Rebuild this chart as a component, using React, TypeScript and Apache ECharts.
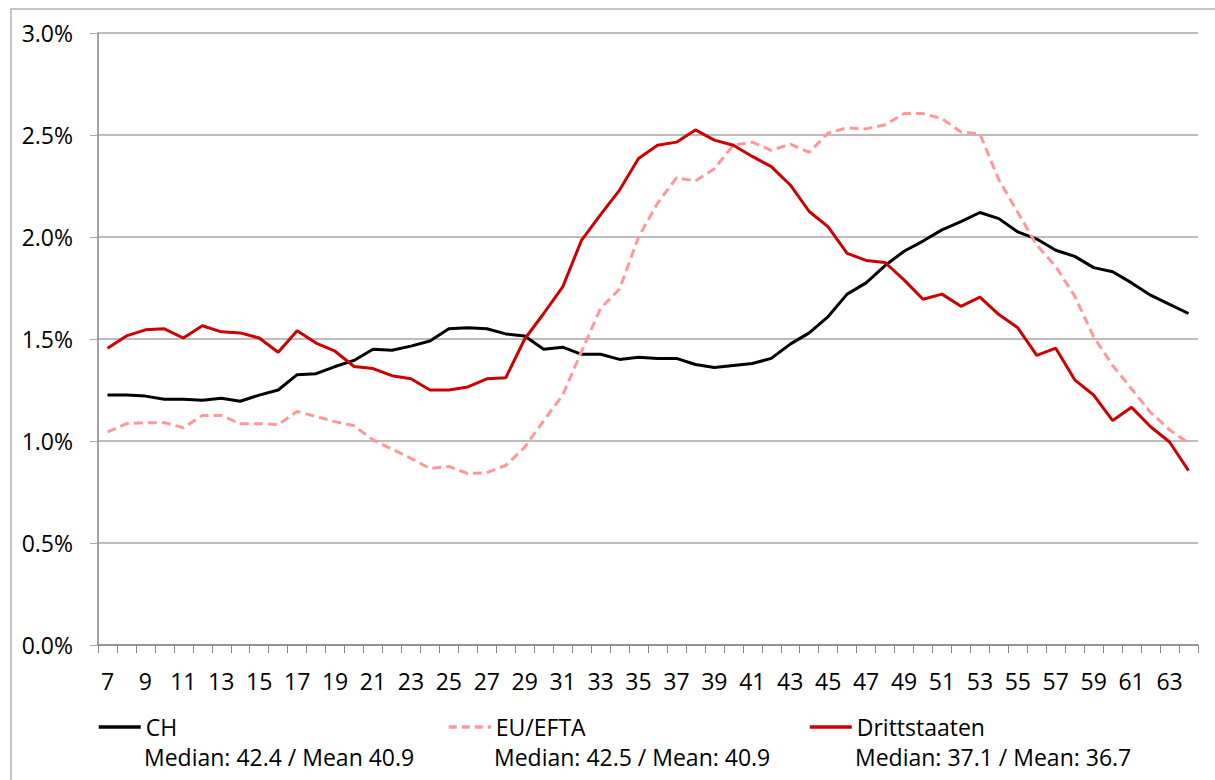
import React, { useEffect, useRef } from "react";
import * as echarts from "echarts";

const ages: string[] = [];
for (let a = 7; a <= 64; a++) ages.push(String(a));

const chValues = [
  1.225, 1.225, 1.22, 1.205, 1.205, 1.2, 1.21, 1.195, 1.225, 1.25,
  1.325, 1.33, 1.365, 1.395, 1.45, 1.445, 1.465, 1.49, 1.55, 1.555,
  1.55, 1.525, 1.515, 1.45, 1.46, 1.425, 1.425, 1.4, 1.41, 1.405,
  1.405, 1.375, 1.36, 1.37, 1.38, 1.405, 1.475, 1.53, 1.61, 1.72,
  1.775, 1.86, 1.93, 1.98, 2.035, 2.075, 2.12, 2.09, 2.025, 1.99,
  1.935, 1.905, 1.85, 1.83, 1.775, 1.715, 1.67, 1.625,
];

const euValues = [
  1.045, 1.085, 1.09, 1.09, 1.065, 1.125, 1.125, 1.085, 1.085, 1.08,
  1.145, 1.12, 1.095, 1.075, 1.005, 0.96, 0.915, 0.865, 0.875, 0.84,
  0.845, 0.88, 0.97, 1.1, 1.225, 1.44, 1.65, 1.745, 2.0, 2.165,
  2.29, 2.275, 2.335, 2.45, 2.465, 2.425, 2.455, 2.415, 2.51, 2.535,
  2.53, 2.55, 2.605, 2.605, 2.58, 2.515, 2.505, 2.28, 2.12, 1.96,
  1.855, 1.71, 1.51, 1.37, 1.255, 1.14, 1.055, 0.99,
];

const drittValues = [
  1.455, 1.515, 1.545, 1.55, 1.505, 1.565, 1.535, 1.53, 1.505, 1.435,
  1.54, 1.48, 1.44, 1.365, 1.355, 1.32, 1.305, 1.25, 1.25, 1.265,
  1.305, 1.31, 1.5, 1.625, 1.755, 1.985, 2.11, 2.23, 2.385, 2.45,
  2.465, 2.525, 2.475, 2.45, 2.395, 2.345, 2.255, 2.125, 2.05, 1.92,
  1.885, 1.875, 1.79, 1.695, 1.72, 1.66, 1.705, 1.62, 1.555, 1.42,
  1.455, 1.3, 1.225, 1.1, 1.165, 1.07, 0.995, 0.855,
];

const seriesNames = ["CH", "EU/EFTA", "Drittstaaten"];
const seriesColors = ["#000000", "#ff9999", "#cc0000"];
const statLabels = [
  "Median: 42.4 / Mean 40.9",
  "Median: 42.5 / Mean: 40.9",
  "Median: 37.1 / Mean: 36.7",
];

const FONT = "Open Sans";
const FS = 23;

export default function App() {
  const ref = useRef<HTMLDivElement>(null);
  useEffect(() => {
    document.body.style.margin = "0";
    const chart = echarts.init(ref.current!, null, { renderer: "svg" });
    const legendLefts = [97, 447, 808];
    const statLefts = [144, 494, 855];
    chart.setOption({
      animation: false,
      backgroundColor: "#ffffff",
      textStyle: { fontFamily: FONT },
      grid: { left: 98, right: 17, top: 33, bottom: 135, containLabel: false },
      xAxis: {
        type: "category",
        data: ages,
        boundaryGap: true,
        axisLine: { lineStyle: { color: "#868686", width: 1.5 } },
        axisTick: { show: true, interval: 0, length: 8, lineStyle: { color: "#868686" } },
        axisLabel: { interval: 1, margin: 24, color: "#000", fontSize: FS, fontFamily: FONT },
        splitLine: { show: false },
      },
      yAxis: {
        type: "value",
        min: 0,
        max: 3,
        interval: 0.5,
        axisLine: { show: true, lineStyle: { color: "#868686", width: 1.5 } },
        axisTick: { show: true, length: 8, lineStyle: { color: "#a6a6a6" } },
        axisLabel: {
          margin: 25,
          color: "#000",
          fontSize: FS,
          fontFamily: FONT,
          formatter: (v: number) => v.toFixed(1) + "%",
        },
        splitLine: { show: true, lineStyle: { color: "#a6a6a6", width: 1.5 } },
      },
      legend: seriesNames.map((n, i) => ({
        data: [n],
        left: legendLefts[i],
        top: 715,
        padding: 0,
        itemWidth: 42,
        itemHeight: 14,
        itemStyle: { opacity: 0 },
        lineStyle: {
          width: 3.5,
          color: seriesColors[i],
          type: i === 1 ? [8, 5] : "solid",
        },
        textStyle: { fontSize: FS, fontFamily: FONT, color: "#000", lineHeight: 24 },
      })),
      graphic: [
        {
          type: "rect",
          shape: { x: 11, y: 9, width: 1400, height: 1000 },
          style: { fill: "none", stroke: "#b3b3b3", lineWidth: 1.5 },
          silent: true,
        },
        ...statLabels.map((t, i) => ({
          type: "text",
          left: statLefts[i],
          top: 745,
          style: { text: t, fontSize: FS, fontFamily: FONT, fill: "#000" },
        })),
      ],
      series: [
        {
          name: seriesNames[0],
          type: "line",
          data: chValues,
          symbol: "none",
          lineStyle: { color: seriesColors[0], width: 3 },
          itemStyle: { color: seriesColors[0] },
        },
        {
          name: seriesNames[1],
          type: "line",
          data: euValues,
          symbol: "none",
          lineStyle: { color: seriesColors[1], width: 3, type: [9, 5] },
          itemStyle: { color: seriesColors[1] },
        },
        {
          name: seriesNames[2],
          type: "line",
          data: drittValues,
          symbol: "none",
          lineStyle: { color: seriesColors[2], width: 3 },
          itemStyle: { color: seriesColors[2] },
        },
      ],
    });
    return () => chart.dispose();
  }, []);
  return <div ref={ref} style={{ width: 1215, height: 780 }} />;
}
